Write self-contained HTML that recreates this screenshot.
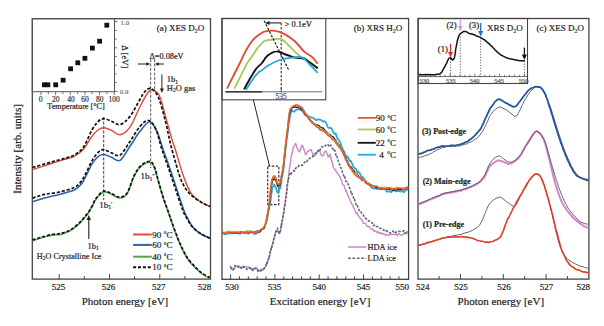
<!DOCTYPE html>
<html><head><meta charset="utf-8"><style>
html,body{margin:0;padding:0;background:#fff;width:604px;height:326px;overflow:hidden}
svg{display:block;font-family:"Liberation Serif",serif}
text{stroke:currentColor;stroke-width:0.2px;paint-order:stroke}
</style></head><body>
<svg width="604" height="326" viewBox="0 0 604 326">
<rect width="604" height="326" fill="#fff"/>
<rect x="32.3" y="18.7" width="178.2" height="260.4" fill="none" stroke="#444" stroke-width="1.3"/>
<line x1="59.2" y1="279.1" x2="59.2" y2="274.1" stroke="#444" stroke-width="1"/>
<line x1="84.3" y1="279.1" x2="84.3" y2="276.1" stroke="#444" stroke-width="1"/>
<line x1="109.5" y1="279.1" x2="109.5" y2="274.1" stroke="#444" stroke-width="1"/>
<line x1="134.6" y1="279.1" x2="134.6" y2="276.1" stroke="#444" stroke-width="1"/>
<line x1="159.8" y1="279.1" x2="159.8" y2="274.1" stroke="#444" stroke-width="1"/>
<line x1="184.9" y1="279.1" x2="184.9" y2="276.1" stroke="#444" stroke-width="1"/>
<text x="58.6" y="290.0" font-size="9" text-anchor="middle" fill="#222" style="color:#222" >525</text>
<text x="108.4" y="290.0" font-size="9" text-anchor="middle" fill="#222" style="color:#222" >526</text>
<text x="158.8" y="290.0" font-size="9" text-anchor="middle" fill="#222" style="color:#222" >527</text>
<text x="204.4" y="290.0" font-size="9" text-anchor="middle" fill="#222" style="color:#222" >528</text>
<text x="125.0" y="305.2" font-size="11" text-anchor="middle" fill="#222" style="color:#222" >Photon energy [eV]</text>
<text transform="translate(21.4,148.9) rotate(-90)" font-size="11" text-anchor="middle" fill="#222">Intensity [arb. units]</text>
<text x="156.8" y="31.0" font-size="9" text-anchor="start" fill="#222" style="color:#222" >(a) XES D<tspan font-size="6" dy="2">2</tspan><tspan dy="-2">O</tspan></text>
<rect x="32.3" y="18.7" width="82.2" height="73.0" fill="none" stroke="#555" stroke-width="1"/>
<line x1="41.0" y1="91.7" x2="41.0" y2="95.2" stroke="#555" stroke-width="0.8"/>
<line x1="48.3" y1="91.7" x2="48.3" y2="94.2" stroke="#555" stroke-width="0.8"/>
<line x1="55.6" y1="91.7" x2="55.6" y2="95.2" stroke="#555" stroke-width="0.8"/>
<line x1="63.0" y1="91.7" x2="63.0" y2="94.2" stroke="#555" stroke-width="0.8"/>
<line x1="70.3" y1="91.7" x2="70.3" y2="95.2" stroke="#555" stroke-width="0.8"/>
<line x1="77.6" y1="91.7" x2="77.6" y2="94.2" stroke="#555" stroke-width="0.8"/>
<line x1="84.9" y1="91.7" x2="84.9" y2="95.2" stroke="#555" stroke-width="0.8"/>
<line x1="92.2" y1="91.7" x2="92.2" y2="94.2" stroke="#555" stroke-width="0.8"/>
<line x1="99.6" y1="91.7" x2="99.6" y2="95.2" stroke="#555" stroke-width="0.8"/>
<line x1="106.9" y1="91.7" x2="106.9" y2="94.2" stroke="#555" stroke-width="0.8"/>
<line x1="114.2" y1="91.7" x2="114.2" y2="95.2" stroke="#555" stroke-width="0.8"/>
<text x="40.5" y="102.0" font-size="7.5" text-anchor="middle" fill="#333" style="color:#333" >0</text>
<text x="55.7" y="102.0" font-size="7.5" text-anchor="middle" fill="#333" style="color:#333" >20</text>
<text x="70.9" y="102.0" font-size="7.5" text-anchor="middle" fill="#333" style="color:#333" >40</text>
<text x="85.1" y="102.0" font-size="7.5" text-anchor="middle" fill="#333" style="color:#333" >60</text>
<text x="99.7" y="102.0" font-size="7.5" text-anchor="middle" fill="#333" style="color:#333" >80</text>
<text x="114.2" y="102.0" font-size="7.5" text-anchor="middle" fill="#333" style="color:#333" >100</text>
<text x="76.0" y="108.8" font-size="8.2" text-anchor="middle" fill="#222" style="color:#222" >Temperature [°C]</text>
<line x1="114.5" y1="21.7" x2="117.5" y2="21.7" stroke="#555" stroke-width="0.9"/>
<line x1="114.5" y1="30.4" x2="116.7" y2="30.4" stroke="#555" stroke-width="0.9"/>
<line x1="114.5" y1="39.1" x2="116.7" y2="39.1" stroke="#555" stroke-width="0.9"/>
<line x1="114.5" y1="47.8" x2="116.7" y2="47.8" stroke="#555" stroke-width="0.9"/>
<line x1="114.5" y1="56.5" x2="116.7" y2="56.5" stroke="#555" stroke-width="0.9"/>
<line x1="114.5" y1="65.2" x2="116.7" y2="65.2" stroke="#555" stroke-width="0.9"/>
<line x1="114.5" y1="73.9" x2="116.7" y2="73.9" stroke="#555" stroke-width="0.9"/>
<line x1="114.5" y1="82.6" x2="116.7" y2="82.6" stroke="#555" stroke-width="0.9"/>
<line x1="114.5" y1="91.3" x2="117.5" y2="91.3" stroke="#555" stroke-width="0.9"/>
<text x="120.5" y="24.8" font-size="7" text-anchor="start" fill="#777" style="color:#777" >1.0</text>
<text x="119.8" y="93.7" font-size="7" text-anchor="start" fill="#777" style="color:#777" >0.9</text>
<text transform="translate(121.6,56.8) rotate(90)" font-size="8.7" text-anchor="middle" fill="#333">Δ [eV]</text>
<rect x="42.0" y="82.4" width="4.8" height="4.8" fill="#111"/>
<rect x="45.5" y="82.4" width="4.8" height="4.8" fill="#111"/>
<rect x="53.3" y="82.4" width="4.8" height="4.8" fill="#111"/>
<rect x="60.7" y="77.8" width="4.8" height="4.8" fill="#111"/>
<rect x="68.2" y="66.4" width="4.8" height="4.8" fill="#111"/>
<rect x="75.4" y="60.4" width="4.8" height="4.8" fill="#111"/>
<rect x="82.5" y="55.9" width="4.8" height="4.8" fill="#111"/>
<rect x="90.0" y="45.7" width="4.8" height="4.8" fill="#111"/>
<rect x="97.2" y="38.8" width="4.8" height="4.8" fill="#111"/>
<rect x="104.4" y="22.8" width="4.8" height="4.8" fill="#111"/>
<line x1="103.6" y1="117.0" x2="103.6" y2="200.0" stroke="#666" stroke-width="1.3" stroke-dasharray="3,1.5"/>
<line x1="150.6" y1="59.0" x2="150.6" y2="168.0" stroke="#777" stroke-width="1.2" stroke-dasharray="3,1.5"/>
<line x1="154.6" y1="59.0" x2="154.6" y2="90.0" stroke="#777" stroke-width="1.2" stroke-dasharray="3,1.5"/>
<path d="M32.5,169.6 C35.7,168.6 45.9,165.3 51.5,163.5 C57.1,161.7 62.1,160.2 66.0,159.0 C69.9,157.8 72.1,157.7 75.0,156.0 C77.9,154.3 80.7,152.3 83.6,149.0 C86.5,145.7 89.7,139.2 92.2,136.0 C94.7,132.8 96.7,130.9 98.7,129.5 C100.7,128.1 101.9,127.6 104.0,127.8 C106.1,128.0 108.8,129.2 111.5,130.4 C114.2,131.6 117.0,135.2 120.1,134.7 C123.2,134.2 126.7,131.8 130.0,127.2 C133.3,122.6 136.9,112.6 139.8,107.0 C142.7,101.4 145.2,96.4 147.2,93.5 C149.2,90.6 149.9,89.4 152.0,89.8 C154.1,90.2 157.2,91.5 159.5,96.0 C161.8,100.5 163.5,109.7 165.6,116.9 C167.7,124.1 170.2,133.5 171.8,139.0 C173.5,144.5 173.7,144.1 175.5,150.0 C177.3,155.9 180.5,167.6 182.9,174.5 C185.3,181.4 188.0,187.9 190.0,191.7 C192.0,195.5 193.1,195.7 195.0,197.5 C196.9,199.3 199.2,201.0 201.7,202.5 C204.2,204.0 208.6,205.9 210.0,206.6" fill="none" stroke="#e2483a" stroke-width="1.4" stroke-linejoin="round" />
<path d="M32.5,167.5 C35.7,166.6 45.9,163.6 51.5,162.0 C57.1,160.4 62.1,159.2 66.0,158.0 C69.9,156.8 72.1,156.3 75.0,154.5 C77.9,152.7 80.7,151.2 83.6,147.0 C86.5,142.8 89.7,133.8 92.2,129.5 C94.7,125.2 96.7,122.8 98.7,121.0 C100.7,119.2 101.9,118.6 104.0,118.6 C106.1,118.6 108.8,120.2 111.5,121.2 C114.2,122.2 117.0,125.4 120.1,124.6 C123.2,123.8 126.7,120.6 130.0,116.4 C133.3,112.2 137.3,103.9 139.8,99.7 C142.3,95.5 143.2,93.3 145.0,91.5 C146.8,89.7 148.7,87.6 150.9,88.6 C153.1,89.5 155.9,91.7 158.3,97.2 C160.8,102.7 163.6,114.0 165.6,121.8 C167.6,129.6 168.7,136.7 170.5,143.9 C172.3,151.2 174.5,158.9 176.4,165.3 C178.3,171.7 179.9,177.7 182.2,182.5 C184.5,187.3 186.8,190.7 190.0,194.0 C193.2,197.3 198.4,200.4 201.7,202.5 C205.0,204.6 208.6,205.9 210.0,206.6" fill="none" stroke="#111" stroke-width="1.7" stroke-dasharray="3.2,1.8" stroke-linejoin="round" />
<path d="M32.5,201.7 C34.5,201.1 40.2,199.2 44.7,198.0 C49.2,196.8 54.5,195.7 59.4,194.4 C64.3,193.1 70.5,191.7 74.2,190.0 C77.9,188.3 79.5,186.5 81.5,184.0 C83.5,181.5 84.7,178.4 86.5,175.0 C88.3,171.6 90.2,166.8 92.2,163.6 C94.2,160.4 96.7,157.6 98.7,156.1 C100.7,154.6 101.9,154.3 104.0,154.5 C106.1,154.7 108.8,156.2 111.5,157.2 C114.2,158.2 117.0,162.2 120.1,160.4 C123.2,158.6 126.7,151.1 130.0,146.3 C133.3,141.5 136.5,135.7 139.8,131.6 C143.1,127.5 146.8,121.8 149.7,121.8 C152.6,121.8 154.7,126.9 157.0,131.6 C159.3,136.3 161.2,144.1 163.3,150.0 C165.4,155.9 167.2,160.7 169.4,167.2 C171.7,173.7 174.4,181.9 176.8,189.2 C179.2,196.5 182.2,206.0 184.1,211.0 C186.0,216.0 186.6,216.3 188.0,219.0 C189.4,221.7 190.6,224.6 192.7,227.0 C194.8,229.4 197.4,231.6 200.4,233.5 C203.4,235.4 208.8,237.8 210.5,238.6" fill="none" stroke="#2f64a8" stroke-width="1.6" stroke-linejoin="round" />
<path d="M32.5,198.0 C34.5,197.4 40.2,195.4 44.7,194.4 C49.2,193.4 54.5,193.2 59.4,192.0 C64.3,190.8 70.5,189.3 74.2,187.5 C77.9,185.7 79.5,183.6 81.5,181.0 C83.5,178.4 84.7,175.4 86.5,172.0 C88.3,168.6 90.2,163.8 92.2,160.4 C94.2,157.0 96.7,153.6 98.7,151.8 C100.7,150.0 101.9,149.5 104.0,149.7 C106.1,149.9 108.8,152.0 111.5,152.9 C114.2,153.8 117.0,157.0 120.1,155.1 C123.2,153.2 126.7,146.1 130.0,141.4 C133.3,136.7 136.7,130.2 139.8,126.7 C142.9,123.2 145.7,120.1 148.4,120.5 C151.1,120.9 153.6,124.5 155.8,129.1 C158.0,133.7 159.5,141.8 161.5,148.0 C163.5,154.2 165.5,159.2 167.8,166.0 C170.1,172.8 172.8,181.2 175.3,188.5 C177.8,195.8 180.7,205.0 182.6,210.0 C184.5,215.0 185.4,215.8 187.0,218.5 C188.6,221.2 189.8,224.0 192.0,226.5 C194.2,229.0 196.9,231.3 200.0,233.3 C203.1,235.3 208.8,237.6 210.5,238.5" fill="none" stroke="#111" stroke-width="1.7" stroke-dasharray="3.2,1.8" stroke-linejoin="round" />
<path d="M32.5,240.8 C33.9,240.4 37.8,239.0 41.0,238.1 C44.2,237.2 48.6,236.0 52.0,235.3 C55.4,234.7 58.2,235.0 61.3,234.2 C64.4,233.4 67.4,232.5 70.4,230.7 C73.5,228.9 77.1,225.7 79.6,223.4 C82.0,221.1 83.6,218.8 85.1,217.0 C86.6,215.2 87.6,214.3 88.8,212.5 C90.0,210.7 91.3,208.2 92.5,206.0 C93.7,203.8 94.4,201.3 96.2,199.0 C98.0,196.7 101.0,192.9 103.5,192.1 C106.0,191.3 108.2,193.0 110.9,194.0 C113.6,195.0 116.8,198.0 119.5,198.0 C122.2,198.0 124.7,197.3 127.1,193.8 C129.5,190.3 131.7,181.4 133.9,176.9 C136.2,172.4 137.9,169.2 140.6,166.8 C143.2,164.4 147.5,162.0 149.8,162.3 C152.2,162.6 153.3,165.1 154.7,168.4 C156.1,171.7 156.9,176.8 158.4,181.9 C159.9,187.0 161.8,193.8 163.5,199.0 C165.2,204.2 167.0,208.6 168.5,213.0 C170.0,217.4 171.1,220.8 172.7,225.2 C174.3,229.6 176.3,235.3 178.0,239.5 C179.7,243.7 181.1,247.0 182.8,250.3 C184.5,253.6 185.9,256.6 188.0,259.5 C190.1,262.4 193.1,265.5 195.4,267.9 C197.7,270.3 199.6,272.3 202.0,274.0 C204.4,275.7 208.4,277.6 209.7,278.3" fill="none" stroke="#4fa850" stroke-width="1.5" stroke-linejoin="round" />
<path d="M32.5,240.0 C33.9,239.6 37.8,238.2 41.0,237.3 C44.2,236.4 48.6,235.2 52.0,234.5 C55.4,233.8 58.2,234.2 61.3,233.4 C64.4,232.6 67.4,231.7 70.4,229.9 C73.5,228.1 77.1,224.9 79.6,222.6 C82.0,220.3 83.6,218.0 85.1,216.2 C86.6,214.4 87.6,213.5 88.8,211.7 C90.0,209.9 91.3,207.4 92.5,205.2 C93.7,202.9 94.4,200.5 96.2,198.2 C98.0,195.9 101.0,192.1 103.5,191.3 C106.0,190.5 108.2,192.2 110.9,193.2 C113.6,194.2 116.8,197.2 119.5,197.2 C122.2,197.2 124.7,196.5 127.1,193.0 C129.5,189.5 131.7,180.6 133.9,176.1 C136.2,171.6 137.9,168.4 140.6,166.0 C143.2,163.6 147.5,161.2 149.8,161.5 C152.2,161.8 153.3,164.3 154.7,167.6 C156.1,170.9 156.9,176.0 158.4,181.1 C159.9,186.2 161.8,193.0 163.5,198.2 C165.2,203.4 167.0,207.8 168.5,212.2 C170.0,216.6 171.1,220.0 172.7,224.4 C174.3,228.8 176.3,234.5 178.0,238.7 C179.7,242.9 181.1,246.2 182.8,249.5 C184.5,252.8 185.9,255.8 188.0,258.7 C190.1,261.6 193.1,264.7 195.4,267.1 C197.7,269.5 199.6,271.5 202.0,273.2 C204.4,274.9 208.4,276.8 209.7,277.5" fill="none" stroke="#111" stroke-width="1.7" stroke-dasharray="3.2,1.8" stroke-linejoin="round" />
<text x="149.4" y="58.9" font-size="8.3" text-anchor="start" fill="#222" style="color:#222" >Δ=0.08eV</text>
<line x1="137.8" y1="64.0" x2="147.5" y2="64.0" stroke="#222" stroke-width="1"/>
<polygon points="150.3,64.0 146.3,62.2 146.3,65.8" fill="#222"/>
<line x1="163.9" y1="64.0" x2="157.5" y2="64.0" stroke="#222" stroke-width="1"/>
<polygon points="154.8,64.0 158.8,62.2 158.8,65.8" fill="#222"/>
<line x1="161.9" y1="74.4" x2="161.9" y2="89.0" stroke="#222" stroke-width="1"/>
<polygon points="161.9,93.0 159.9,88.5 163.9,88.5" fill="#222"/>
<text x="166.8" y="82.3" font-size="8.5" text-anchor="start" fill="#222" style="color:#222" >1b<tspan font-size="5.5" dy="1.5">1</tspan></text>
<text x="166.8" y="90.8" font-size="8.5" text-anchor="start" fill="#222" style="color:#222" >H<tspan font-size="5.5" dy="1.5">2</tspan><tspan dy="-1.5">O gas</tspan></text>
<text x="99.3" y="207.5" font-size="9" text-anchor="start" fill="#222" style="color:#222" >1b<tspan font-size="5.5" dy="1.5">1</tspan><tspan font-size="7" dy="-3">'</tspan></text>
<text x="140.5" y="179.4" font-size="9" text-anchor="start" fill="#222" style="color:#222" >1b<tspan font-size="5.5" dy="1.5">1</tspan><tspan font-size="7" dy="-3">''</tspan></text>
<line x1="88.8" y1="239.0" x2="88.8" y2="219.5" stroke="#222" stroke-width="1.1"/>
<polygon points="88.8,215.1 86.5,220.1 91.0,220.1" fill="#222"/>
<text x="87.6" y="248.8" font-size="8.5" text-anchor="start" fill="#222" style="color:#222" >1b<tspan font-size="5.5" dy="1.5">1</tspan></text>
<text x="36.8" y="258.6" font-size="8.2" text-anchor="start" fill="#222" style="color:#222" >H<tspan font-size="5.5" dy="1.5">2</tspan><tspan dy="-1.5">O Crystalline Ice</tspan></text>
<line x1="133.1" y1="234.5" x2="151.8" y2="234.5" stroke="#e2483a" stroke-width="2.0"/>
<text x="152.2" y="237.6" font-size="9" text-anchor="start" fill="#222" style="color:#222" >90<tspan dx="2.5" dy="-1.5" font-size="7">°</tspan><tspan dy="1.5">C</tspan></text>
<line x1="133.1" y1="244.9" x2="151.8" y2="244.9" stroke="#2f64a8" stroke-width="2.0"/>
<text x="152.2" y="248.0" font-size="9" text-anchor="start" fill="#222" style="color:#222" >60<tspan dx="2.5" dy="-1.5" font-size="7">°</tspan><tspan dy="1.5">C</tspan></text>
<line x1="133.1" y1="256.7" x2="151.8" y2="256.7" stroke="#4fa850" stroke-width="2.0"/>
<text x="152.2" y="259.8" font-size="9" text-anchor="start" fill="#222" style="color:#222" >40<tspan dx="2.5" dy="-1.5" font-size="7">°</tspan><tspan dy="1.5">C</tspan></text>
<line x1="133.1" y1="267.2" x2="151.8" y2="267.2" stroke="#111" stroke-width="2.0" stroke-dasharray="3,1.9"/>
<text x="152.2" y="270.3" font-size="9" text-anchor="start" fill="#222" style="color:#222" >10<tspan dx="2.5" dy="-1.5" font-size="7">°</tspan><tspan dy="1.5">C</tspan></text>
<rect x="222.0" y="18.5" width="186.6" height="260.8" fill="none" stroke="#444" stroke-width="1.3"/>
<line x1="230.6" y1="279.3" x2="230.6" y2="274.3" stroke="#444" stroke-width="1"/>
<line x1="239.5" y1="279.3" x2="239.5" y2="276.3" stroke="#444" stroke-width="1"/>
<line x1="248.3" y1="279.3" x2="248.3" y2="276.3" stroke="#444" stroke-width="1"/>
<line x1="257.2" y1="279.3" x2="257.2" y2="276.3" stroke="#444" stroke-width="1"/>
<line x1="266.0" y1="279.3" x2="266.0" y2="276.3" stroke="#444" stroke-width="1"/>
<line x1="274.9" y1="279.3" x2="274.9" y2="274.3" stroke="#444" stroke-width="1"/>
<line x1="283.8" y1="279.3" x2="283.8" y2="276.3" stroke="#444" stroke-width="1"/>
<line x1="292.6" y1="279.3" x2="292.6" y2="276.3" stroke="#444" stroke-width="1"/>
<line x1="301.5" y1="279.3" x2="301.5" y2="276.3" stroke="#444" stroke-width="1"/>
<line x1="310.3" y1="279.3" x2="310.3" y2="276.3" stroke="#444" stroke-width="1"/>
<line x1="319.2" y1="279.3" x2="319.2" y2="274.3" stroke="#444" stroke-width="1"/>
<line x1="328.1" y1="279.3" x2="328.1" y2="276.3" stroke="#444" stroke-width="1"/>
<line x1="336.9" y1="279.3" x2="336.9" y2="276.3" stroke="#444" stroke-width="1"/>
<line x1="345.8" y1="279.3" x2="345.8" y2="276.3" stroke="#444" stroke-width="1"/>
<line x1="354.6" y1="279.3" x2="354.6" y2="276.3" stroke="#444" stroke-width="1"/>
<line x1="363.5" y1="279.3" x2="363.5" y2="274.3" stroke="#444" stroke-width="1"/>
<line x1="372.4" y1="279.3" x2="372.4" y2="276.3" stroke="#444" stroke-width="1"/>
<line x1="381.2" y1="279.3" x2="381.2" y2="276.3" stroke="#444" stroke-width="1"/>
<line x1="390.1" y1="279.3" x2="390.1" y2="276.3" stroke="#444" stroke-width="1"/>
<line x1="398.9" y1="279.3" x2="398.9" y2="276.3" stroke="#444" stroke-width="1"/>
<text x="231.9" y="290.0" font-size="9" text-anchor="middle" fill="#222" style="color:#222" >530</text>
<text x="274.6" y="290.0" font-size="9" text-anchor="middle" fill="#222" style="color:#222" >535</text>
<text x="319.2" y="290.0" font-size="9" text-anchor="middle" fill="#222" style="color:#222" >540</text>
<text x="363.5" y="290.0" font-size="9" text-anchor="middle" fill="#222" style="color:#222" >545</text>
<text x="402.2" y="290.0" font-size="9" text-anchor="middle" fill="#222" style="color:#222" >550</text>
<text x="320.0" y="305.2" font-size="11" text-anchor="middle" fill="#222" style="color:#222" >Excitation energy [eV]</text>
<text x="353.8" y="31.0" font-size="9" text-anchor="start" fill="#222" style="color:#222" >(b) XRS H<tspan font-size="6" dy="2">2</tspan><tspan dy="-2">O</tspan></text>
<rect x="222.0" y="18.5" width="103.8" height="81.3" fill="none" stroke="#444" stroke-width="1.1"/>
<line x1="225.5" y1="91.8" x2="322.3" y2="91.8" stroke="#444" stroke-width="0.8"/>
<line x1="225.5" y1="91.8" x2="262.0" y2="91.8" stroke="#222" stroke-width="1.2"/>
<line x1="281.2" y1="91.8" x2="281.2" y2="88.2" stroke="#444" stroke-width="0.8"/>
<text x="281.2" y="99.3" font-size="7.5" text-anchor="middle" fill="#555" style="color:#555" >535</text>
<line x1="281.2" y1="23.0" x2="281.2" y2="91.8" stroke="#333" stroke-width="1.1" stroke-dasharray="2.5,1.5"/>
<path d="M226.9,88.7 C228.1,86.2 232.1,78.5 234.3,74.0 C236.6,69.5 238.9,65.1 240.4,62.0 C241.9,58.9 242.2,57.9 243.4,55.5 C244.6,53.1 246.3,49.9 247.7,47.5 C249.1,45.1 250.6,42.8 252.0,41.0 C253.4,39.2 254.7,38.0 256.3,36.7 C257.9,35.4 260.2,33.9 261.8,33.0 C263.4,32.1 263.4,31.7 265.6,31.3 C267.8,30.9 271.8,30.5 274.9,30.9 C278.0,31.3 280.8,32.2 284.1,33.9 C287.4,35.6 291.5,38.4 294.8,41.3 C298.1,44.2 301.2,48.8 304.0,51.4 C306.8,54.0 309.4,54.7 311.7,56.7 C314.0,58.8 316.8,62.5 317.8,63.7" fill="none" stroke="#e04a30" stroke-width="1.8" stroke-linejoin="round" />
<path d="M234.3,88.7 C235.3,86.7 238.4,80.6 240.4,76.5 C242.4,72.4 244.5,67.7 246.5,64.2 C248.5,60.7 250.9,58.0 252.6,55.5 C254.3,53.0 255.4,50.9 256.9,48.9 C258.4,46.9 260.4,44.8 261.8,43.4 C263.2,42.0 263.4,41.4 265.6,40.7 C267.8,40.0 272.3,39.5 274.9,39.2 C277.5,39.0 279.0,38.4 281.0,39.2 C283.0,40.0 284.6,41.5 287.1,43.8 C289.7,46.1 293.5,50.5 296.3,53.0 C299.1,55.5 301.7,57.6 304.0,59.1 C306.3,60.6 307.9,60.7 310.2,62.2 C312.5,63.7 316.5,67.3 317.8,68.3" fill="none" stroke="#a9c95e" stroke-width="1.8" stroke-linejoin="round" />
<path d="M244.1,89.4 C245.1,87.6 248.1,81.8 250.2,78.3 C252.2,74.8 254.4,71.0 256.4,68.5 C258.4,66.0 260.2,65.1 262.0,63.0 C263.8,60.9 264.8,57.9 267.2,56.0 C269.6,54.1 273.3,51.6 276.4,51.4 C279.5,51.1 282.5,53.5 285.6,54.5 C288.7,55.5 291.7,56.9 294.8,57.6 C297.9,58.3 301.4,57.6 304.0,58.5 C306.6,59.4 307.9,61.2 310.2,62.8 C312.5,64.4 316.5,67.4 317.8,68.3" fill="none" stroke="#111" stroke-width="1.9" stroke-linejoin="round" />
<path d="M245.9,90.0 C247.0,88.2 250.5,82.5 252.7,79.5 C254.8,76.5 257.2,73.7 258.8,72.2 C260.4,70.7 260.4,71.5 262.0,70.3 C263.6,69.1 265.8,66.9 268.7,65.2 C271.6,63.5 275.7,61.3 279.5,60.0 C283.3,58.7 287.9,58.0 291.7,57.6 C295.5,57.2 299.4,56.3 302.5,57.6 C305.6,58.9 307.6,62.7 310.2,65.2 C312.8,67.8 316.5,71.6 317.8,72.9" fill="none" stroke="#2aa6d6" stroke-width="1.8" stroke-linejoin="round" />
<line x1="264.1" y1="20.7" x2="288.7" y2="69.9" stroke="#222" stroke-width="1.2" stroke-dasharray="2.5,1.5"/>
<line x1="268.0" y1="22.9" x2="281.2" y2="22.9" stroke="#222" stroke-width="1.1"/>
<polygon points="265.0,22.9 269.5,20.9 269.5,24.9" fill="#222"/>
<text x="284.5" y="26.6" font-size="8.5" text-anchor="start" fill="#222" style="color:#222" >&gt; 0.1eV</text>
<line x1="253.4" y1="100.0" x2="269.5" y2="166.1" stroke="#222" stroke-width="1"/>
<rect x="267.7" y="166.1" width="11.1" height="38.6" fill="none" stroke="#333" stroke-width="1.2" stroke-dasharray="2.5,1.5"/>
<path d="M222.5,233.1 L223.8,233.4 L225.6,234.5 L227.7,233.1 L230.0,233.3 L232.4,233.5 L234.7,232.3 L236.5,233.2 L238.3,233.5 L240.2,234.0 L242.2,231.8 L244.1,232.4 L246.0,231.7 L247.8,233.8 L249.4,233.4 L251.8,231.3 L253.9,234.0 L255.9,233.8 L257.7,232.7 L259.3,232.1 L261.4,229.8 L262.9,228.2 L264.2,228.1 L265.0,225.3 L265.5,224.1 L266.1,222.5 L266.6,219.6 L267.0,219.3 L267.3,217.5 L267.7,216.7 L268.1,213.7 L268.4,212.1 L268.8,209.8 L269.1,208.5 L269.5,205.7 L269.8,203.1 L270.2,203.3 L270.5,201.4 L270.8,199.0 L271.1,196.6 L271.5,193.3 L271.8,191.1 L272.2,189.4 L272.5,187.2 L273.2,186.5 L274.0,184.3 L275.0,186.8 L276.0,187.7 L277.0,191.7 L278.0,193.0 L279.8,188.5 L280.1,187.6 L280.5,187.8 L280.8,184.3 L281.2,183.6 L281.5,179.7 L281.9,176.8 L282.2,176.7 L282.6,175.3 L282.9,171.8 L283.3,168.8 L283.5,167.9 L283.7,168.2 L283.9,165.8 L284.1,162.1 L284.3,160.5 L284.5,158.1 L284.7,155.9 L285.0,156.0 L285.2,152.0 L285.4,151.5 L285.6,149.4 L285.8,146.8 L286.0,146.5 L286.2,142.8 L286.4,142.4 L286.7,138.9 L286.9,137.9 L287.1,135.4 L287.4,133.7 L287.6,134.1 L287.8,131.9 L288.1,128.2 L288.4,127.8 L288.7,123.6 L288.9,122.0 L289.2,121.4 L289.5,118.9 L289.8,115.5 L290.2,116.7 L290.5,113.1 L292.1,110.8 L294.0,111.8 L296.2,109.6 L298.6,109.3 L300.8,109.9 L303.0,111.8 L305.1,114.9 L307.0,115.2 L310.4,117.3 L312.1,117.4 L314.0,118.4 L316.1,120.3 L318.4,119.3 L320.7,119.8 L323.0,121.6 L324.5,121.0 L326.1,122.8 L327.6,126.9 L329.1,128.1 L330.5,127.7 L332.0,129.1 L333.2,132.0 L334.5,134.0 L335.7,133.3 L336.8,137.2 L337.7,138.6 L338.4,139.4 L339.1,140.7 L340.0,141.8 L340.7,143.2 L341.5,147.7 L342.3,147.4 L343.2,150.7 L344.2,151.3 L345.3,155.0 L346.2,155.8 L347.2,156.4 L348.3,157.6 L349.4,160.9 L350.5,160.5 L351.6,162.5 L352.7,165.0 L353.7,167.3 L354.9,168.3 L356.0,168.8 L357.1,172.3 L358.1,171.6 L359.3,172.5 L360.5,174.8 L361.6,176.8 L362.8,177.1 L364.1,179.0 L365.4,181.0 L366.7,183.1 L368.0,183.0 L369.3,184.8 L371.2,187.5 L373.0,188.6 L375.0,188.3 L377.0,188.9 L379.1,189.2 L381.0,188.3 L383.0,188.4 L385.0,188.7 L387.1,191.7 L389.2,191.3 L391.3,192.3 L393.4,189.6 L395.7,191.5 L397.9,191.0 L400.1,191.7 L402.0,190.4 L403.6,192.4 L406.6,189.2 L408.0,190.2" fill="none" stroke="#2aa6d6" stroke-width="1.7" stroke-linejoin="round" />
<path d="M222.5,232.8 L223.4,233.1 L224.6,233.1 L226.1,232.3 L227.7,232.1 L229.4,232.7 L231.2,232.5 L233.0,233.3 L234.7,233.1 L236.1,233.0 L237.6,232.9 L239.1,233.0 L240.6,232.1 L242.2,232.5 L243.7,232.1 L245.3,233.2 L246.7,231.8 L248.1,232.9 L249.4,231.7 L251.1,232.6 L252.7,232.0 L254.2,232.0 L255.7,232.6 L257.0,231.2 L258.2,231.0 L259.3,232.1 L260.9,230.7 L262.2,229.1 L263.3,229.4 L264.2,228.0 L264.8,225.5 L265.3,224.8 L265.8,222.9 L266.2,221.6 L266.6,220.1 L266.9,218.3 L267.1,217.8 L267.4,215.4 L267.6,214.2 L267.9,213.7 L268.2,211.5 L268.4,210.0 L268.7,208.7 L268.9,207.1 L269.1,205.5 L269.3,203.4 L269.5,202.9 L269.7,201.8 L269.8,200.2 L270.0,198.2 L270.1,196.2 L270.3,194.8 L270.4,193.9 L270.6,192.6 L270.8,189.8 L271.1,188.2 L271.3,186.8 L271.5,185.4 L271.7,184.5 L272.0,182.8 L272.6,180.1 L273.2,180.0 L273.9,178.7 L274.9,179.5 L276.0,180.8 L276.5,182.5 L277.0,184.1 L277.5,186.2 L278.0,186.1 L279.8,185.6 L280.1,184.0 L280.4,183.5 L280.7,180.9 L280.9,179.7 L281.2,178.2 L281.5,177.2 L281.8,174.8 L282.1,174.0 L282.4,172.2 L282.8,170.6 L283.1,168.7 L283.2,168.4 L283.4,166.5 L283.5,166.0 L283.7,163.5 L283.8,163.3 L284.0,161.0 L284.1,159.3 L284.3,158.7 L284.5,157.4 L284.6,154.4 L284.8,153.2 L285.0,152.4 L285.2,150.4 L285.3,148.8 L285.5,147.0 L285.6,145.6 L285.8,145.0 L286.0,144.0 L286.2,142.5 L286.4,140.2 L286.5,137.8 L286.7,136.8 L286.9,136.0 L287.1,134.6 L287.3,132.8 L287.4,130.7 L287.6,129.8 L287.8,128.0 L288.0,126.6 L288.2,124.3 L288.3,123.7 L288.5,121.9 L288.7,119.1 L288.9,117.8 L289.1,117.2 L289.3,114.9 L289.5,114.7 L289.8,112.8 L290.1,112.1 L291.2,109.9 L292.4,107.8 L293.8,107.2 L295.2,106.8 L296.7,107.3 L298.2,107.6 L299.7,107.3 L301.1,109.3 L302.2,109.6 L303.2,110.5 L304.2,112.3 L305.3,114.6 L306.2,115.1 L307.2,116.4 L308.2,118.1 L309.3,119.4 L310.3,120.3 L311.3,120.7 L312.6,122.1 L313.8,123.5 L315.0,124.1 L316.3,124.6 L317.7,125.0 L319.1,125.9 L320.6,127.3 L322.2,128.0 L323.3,128.0 L324.4,129.9 L325.6,131.1 L326.7,131.9 L327.9,133.0 L329.0,134.0 L330.1,134.5 L331.3,136.0 L332.5,136.5 L333.6,137.3 L334.7,138.9 L335.7,140.0 L336.6,142.2 L337.4,142.8 L338.1,143.6 L338.9,144.8 L339.8,145.5 L340.8,148.0 L341.4,149.3 L341.9,149.9 L342.6,150.9 L343.2,152.5 L343.9,153.8 L344.6,155.8 L345.3,156.4 L346.0,157.8 L346.7,159.6 L347.4,161.7 L348.2,163.1 L348.9,164.2 L349.6,165.9 L350.5,166.4 L351.5,167.2 L352.5,169.2 L353.4,170.4 L354.4,171.1 L355.4,173.1 L356.4,173.6 L357.4,174.5 L358.4,175.7 L359.4,177.6 L360.6,177.3 L361.9,178.9 L363.1,179.8 L364.4,180.6 L365.6,181.9 L366.8,182.4 L368.1,184.3 L369.3,184.3 L370.7,185.4 L372.0,185.2 L373.4,186.2 L374.7,186.9 L376.1,187.8 L377.6,187.2 L379.1,187.9 L380.5,188.9 L382.0,189.1 L383.5,188.3 L385.0,189.0 L386.6,189.5 L388.2,189.0 L389.8,189.6 L391.3,189.7 L392.9,190.2 L394.6,189.6 L396.3,189.8 L397.9,189.3 L399.6,189.9 L401.1,189.2 L402.4,189.5 L403.6,189.2 L405.8,188.8 L407.2,188.0 L408.0,187.9" fill="none" stroke="#111" stroke-width="1.3" stroke-linejoin="round" />
<path d="M222.5,231.5 L223.4,232.2 L224.6,232.2 L226.1,232.5 L227.7,231.4 L229.4,231.5 L231.2,231.4 L233.0,231.5 L234.7,232.3 L236.1,231.3 L237.6,231.9 L239.1,231.3 L240.6,231.4 L242.2,231.6 L243.7,232.2 L245.3,231.8 L246.7,230.8 L248.1,231.1 L249.4,230.8 L251.1,231.9 L252.7,231.8 L254.2,231.7 L255.7,231.7 L257.0,231.4 L258.2,231.5 L259.3,231.0 L260.9,229.3 L262.2,229.3 L263.3,227.6 L264.2,226.6 L264.8,225.1 L265.3,223.7 L265.8,222.2 L266.2,220.7 L266.6,218.5 L266.9,217.0 L267.1,216.8 L267.4,215.4 L267.6,214.2 L267.9,212.2 L268.2,210.4 L268.4,209.2 L268.7,206.6 L268.9,205.9 L269.1,204.0 L269.3,202.1 L269.5,200.6 L269.6,199.5 L269.8,197.5 L269.9,196.3 L270.1,195.0 L270.2,193.1 L270.3,191.3 L270.5,190.5 L270.6,188.8 L270.8,187.0 L271.0,185.3 L271.2,184.0 L271.4,182.1 L271.6,181.7 L271.8,181.0 L272.0,179.0 L272.9,177.2 L273.9,176.7 L274.9,175.8 L276.0,177.6 L276.5,180.1 L277.0,181.9 L277.5,183.3 L278.0,183.7 L279.8,183.1 L280.1,182.6 L280.5,181.1 L280.8,179.2 L281.2,176.4 L281.5,175.8 L281.8,173.5 L282.1,172.8 L282.4,170.5 L282.8,170.1 L283.1,167.4 L283.2,166.5 L283.4,164.5 L283.5,163.9 L283.7,162.5 L283.8,161.2 L284.0,159.4 L284.1,158.5 L284.3,156.3 L284.5,154.7 L284.6,152.9 L284.8,152.1 L285.0,149.6 L285.2,148.4 L285.3,146.8 L285.5,146.3 L285.6,144.6 L285.8,143.1 L286.0,140.8 L286.2,139.9 L286.4,138.2 L286.5,136.2 L286.7,134.5 L286.9,134.6 L287.1,131.7 L287.3,130.5 L287.4,129.0 L287.6,128.2 L287.8,125.7 L288.0,124.7 L288.1,123.0 L288.3,122.1 L288.5,119.1 L288.6,118.1 L288.8,116.8 L289.0,116.1 L289.1,114.0 L289.3,112.6 L289.6,111.7 L289.8,110.0 L290.1,108.7 L291.2,107.2 L292.4,106.7 L293.8,105.9 L295.2,104.8 L296.7,105.4 L298.2,106.0 L299.7,105.7 L301.1,107.0 L302.0,107.5 L302.8,108.4 L303.6,109.7 L304.4,110.9 L305.3,112.6 L306.1,113.2 L306.9,115.0 L307.8,115.8 L308.7,118.2 L309.6,119.2 L310.5,119.4 L311.3,121.6 L312.6,122.1 L313.8,123.6 L315.0,124.6 L316.3,125.2 L317.4,126.0 L318.6,127.0 L319.7,127.4 L320.9,129.4 L322.2,129.1 L323.3,131.0 L324.4,130.8 L325.6,131.7 L326.7,132.7 L327.9,133.0 L329.0,134.1 L330.1,135.5 L331.3,136.7 L332.5,138.6 L333.6,140.0 L334.7,139.6 L335.7,141.6 L336.6,141.9 L337.4,143.8 L338.1,143.9 L338.9,145.8 L339.8,146.5 L340.8,147.6 L341.3,148.4 L341.9,149.8 L342.4,152.0 L343.0,152.1 L343.6,154.0 L344.3,155.2 L344.9,156.6 L345.6,158.7 L346.2,159.2 L346.9,161.4 L347.6,162.7 L348.3,164.4 L348.9,164.9 L349.6,166.7 L350.5,167.3 L351.5,168.8 L352.5,170.2 L353.4,171.7 L354.4,172.9 L355.4,172.7 L356.4,173.8 L357.4,175.4 L358.4,176.7 L359.4,177.2 L360.6,177.8 L361.9,179.8 L363.1,179.5 L364.4,180.0 L365.6,180.6 L366.8,181.2 L368.1,182.9 L369.3,182.6 L370.7,184.2 L372.0,185.1 L373.4,185.9 L374.7,186.1 L376.1,186.0 L377.6,186.7 L379.1,187.4 L380.5,187.5 L382.0,187.1 L383.5,188.0 L385.0,187.1 L386.6,187.5 L388.2,188.7 L389.8,188.0 L391.3,187.7 L392.9,188.6 L394.6,188.1 L396.3,187.4 L397.9,187.5 L399.6,187.9 L401.1,187.9 L402.4,188.9 L403.6,187.7 L405.8,188.3 L407.2,187.8 L408.0,186.8" fill="none" stroke="#a9c95e" stroke-width="1.4" stroke-linejoin="round" />
<path d="M222.5,231.9 L223.4,233.1 L224.6,233.0 L226.1,233.6 L227.7,232.3 L229.4,232.2 L231.2,233.2 L233.0,233.0 L234.7,232.3 L236.1,233.0 L237.6,232.4 L239.1,233.2 L240.6,231.8 L242.2,232.0 L243.7,233.3 L245.3,232.1 L246.7,231.9 L248.1,232.9 L249.4,232.5 L251.1,231.4 L252.7,232.2 L254.2,232.3 L255.7,231.3 L257.0,232.1 L258.2,230.9 L259.3,231.0 L260.9,229.7 L262.2,229.0 L263.3,229.3 L264.2,226.8 L264.8,226.8 L265.3,224.5 L265.8,223.4 L266.2,222.3 L266.6,220.0 L266.9,217.6 L267.1,217.3 L267.4,216.0 L267.6,213.6 L267.9,211.9 L268.2,211.9 L268.4,209.6 L268.7,207.4 L268.9,206.3 L269.1,204.3 L269.3,204.0 L269.5,201.9 L269.6,199.5 L269.8,199.4 L269.9,196.3 L270.1,195.2 L270.2,193.2 L270.3,193.2 L270.5,190.5 L270.6,190.1 L270.8,187.4 L271.0,186.5 L271.2,185.4 L271.4,183.6 L271.6,182.1 L271.8,181.0 L272.0,179.9 L272.9,177.8 L273.9,176.0 L274.9,177.3 L276.0,178.5 L276.5,181.1 L277.0,183.1 L277.5,183.0 L278.0,184.3 L279.8,184.4 L280.1,183.0 L280.5,180.3 L280.8,179.9 L281.2,178.6 L281.5,175.8 L281.8,174.2 L282.1,173.4 L282.4,172.7 L282.8,169.7 L283.1,167.6 L283.2,166.3 L283.4,166.0 L283.5,164.4 L283.7,162.7 L283.8,161.6 L284.0,159.5 L284.1,158.5 L284.3,158.4 L284.5,156.0 L284.6,153.8 L284.8,153.5 L285.0,150.7 L285.2,149.2 L285.3,147.3 L285.5,146.1 L285.6,144.8 L285.8,143.3 L286.0,143.1 L286.2,140.3 L286.4,138.7 L286.5,137.9 L286.7,137.0 L286.9,134.2 L287.1,133.6 L287.3,131.4 L287.4,130.3 L287.6,129.0 L287.8,128.1 L288.0,126.1 L288.1,124.0 L288.3,123.0 L288.5,120.5 L288.6,118.9 L288.8,118.5 L289.0,116.2 L289.1,115.3 L289.3,113.1 L289.6,113.1 L289.8,111.4 L290.1,109.7 L291.2,108.9 L292.4,106.8 L293.8,106.0 L295.2,105.5 L296.7,105.1 L298.2,105.6 L299.7,107.2 L301.1,107.0 L302.0,108.1 L302.8,109.5 L303.6,110.9 L304.4,112.0 L305.3,114.2 L306.1,114.2 L306.9,115.7 L307.8,117.1 L308.7,117.8 L309.6,119.3 L310.5,120.3 L311.3,122.5 L312.6,122.7 L313.8,124.7 L315.0,124.8 L316.3,126.6 L317.4,127.4 L318.6,127.7 L319.7,129.6 L320.9,129.9 L322.2,130.6 L323.3,130.4 L324.4,131.9 L325.6,132.4 L326.7,133.6 L327.9,135.4 L329.0,136.2 L330.1,135.7 L331.3,138.0 L332.5,139.7 L333.6,140.1 L334.7,140.3 L335.7,143.0 L336.6,143.1 L337.4,145.1 L338.1,145.7 L338.9,146.6 L339.8,148.1 L340.8,148.1 L341.3,150.5 L341.9,150.6 L342.4,151.5 L343.0,153.2 L343.6,155.0 L344.3,155.2 L344.9,157.5 L345.6,159.6 L346.2,160.5 L346.9,161.9 L347.6,162.8 L348.3,165.5 L348.9,165.2 L349.6,167.2 L350.5,168.5 L351.5,168.5 L352.5,171.8 L353.4,171.4 L354.4,174.1 L355.4,175.0 L356.4,176.0 L357.4,176.8 L358.4,176.8 L359.4,177.8 L360.6,178.6 L361.9,180.7 L363.1,179.7 L364.4,180.7 L365.6,183.0 L366.8,183.4 L368.1,183.8 L369.3,184.9 L370.7,184.7 L372.0,186.0 L373.4,185.8 L374.7,187.2 L376.1,186.0 L377.6,187.2 L379.1,187.9 L380.5,188.6 L382.0,188.0 L383.5,188.7 L385.0,189.5 L386.6,188.5 L388.2,188.1 L389.8,187.9 L391.3,189.6 L392.9,188.9 L394.6,188.8 L396.3,189.1 L397.9,188.3 L399.6,188.5 L401.1,188.5 L402.4,188.5 L403.6,189.6 L405.8,188.0 L407.2,187.2 L408.0,188.4" fill="none" stroke="#e8582e" stroke-width="1.6" stroke-linejoin="round" />
<path d="M230.2,265.2 L230.8,267.8 L231.6,269.4 L232.5,269.9 L233.3,268.8 L234.1,268.8 L235.0,267.7 L236.5,266.2 L238.0,266.0 L239.0,266.1 L240.0,266.7 L241.0,268.2 L242.0,268.2 L243.0,266.0 L244.0,267.2 L245.5,266.5 L247.0,267.4 L248.5,266.6 L250.0,268.7 L251.0,268.9 L252.0,270.3 L253.0,270.3 L254.0,268.3 L255.0,268.0 L256.0,268.0 L256.9,268.0 L257.7,271.6 L258.5,271.2 L259.8,270.2 L261.0,270.8 L262.2,268.7 L263.5,270.0 L264.3,268.2 L265.2,267.5 L266.0,265.6 L266.4,265.1 L266.8,263.3 L267.2,261.8 L267.7,262.6 L268.1,259.8 L268.5,259.7 L268.8,257.2 L269.2,257.8 L269.5,256.4 L269.9,254.7 L270.2,253.4 L270.5,251.7 L270.9,250.8 L271.2,248.1 L271.6,247.6 L271.9,247.1 L272.3,244.3 L272.7,244.7 L273.0,243.4 L273.4,241.0 L273.7,239.7 L274.1,238.5 L274.4,236.9 L274.7,237.0 L275.1,234.3 L275.4,232.2 L275.7,231.4 L276.6,230.7 L277.5,230.7 L278.1,230.9 L278.8,233.1 L279.5,233.6 L279.7,233.6 L280.0,231.7 L280.2,231.8 L280.5,230.6 L280.7,229.7 L281.0,227.4 L281.3,226.0 L281.5,225.0 L281.8,224.9 L282.1,221.9 L282.4,220.8 L282.6,219.1 L282.7,217.6 L282.9,216.4 L283.1,217.1 L283.3,215.8 L283.5,213.6 L283.6,213.1 L283.8,211.8 L284.0,211.0 L284.2,209.8 L284.4,207.2 L284.6,207.2 L284.7,205.8 L284.9,203.6 L285.1,203.0 L285.3,200.8 L285.5,199.2 L285.6,197.6 L285.8,197.9 L286.0,194.9 L286.1,193.4 L286.3,193.9 L286.5,192.6 L286.6,190.6 L286.8,190.2 L286.9,187.1 L287.1,186.3 L287.2,185.1 L287.4,184.2 L287.6,182.4 L287.7,180.9 L287.9,180.3 L288.0,180.4 L288.2,179.4 L288.4,177.6 L288.5,175.7 L288.7,173.9 L288.9,174.3 L289.1,172.0 L289.2,171.2 L289.4,168.2 L289.6,167.3 L289.8,167.4 L290.0,166.0 L290.2,164.9 L290.4,162.9 L290.6,161.1 L290.8,160.2 L290.9,159.7 L291.1,157.2 L291.3,156.6 L291.5,154.8 L291.7,155.0 L291.9,152.2 L292.1,152.9 L292.6,151.5 L293.1,147.4 L293.6,147.2 L294.0,146.1 L294.5,145.6 L295.0,144.4 L295.5,143.4 L296.0,144.2 L296.5,146.7 L297.0,148.2 L297.4,148.2 L297.9,149.7 L298.4,151.0 L298.9,151.4 L299.5,151.9 L300.0,149.9 L300.5,150.0 L301.1,147.8 L301.6,145.2 L302.2,145.8 L302.7,145.8 L303.1,147.4 L303.6,148.3 L304.1,149.9 L304.6,151.6 L305.1,153.3 L305.6,154.7 L306.4,154.0 L307.3,151.5 L308.2,151.4 L309.1,150.5 L310.0,149.8 L310.7,150.4 L311.3,149.7 L312.0,152.4 L312.6,153.0 L313.3,156.0 L314.0,155.1 L314.8,156.1 L315.7,154.1 L316.6,153.9 L317.5,151.7 L318.4,150.1 L319.1,150.5 L320.0,151.2 L320.6,154.4 L321.3,154.7 L322.0,156.0 L322.7,155.6 L323.6,155.3 L324.4,151.7 L325.2,151.7 L325.9,151.0 L326.5,152.2 L327.0,154.1 L327.5,154.1 L328.0,156.5 L328.4,157.0 L329.2,155.8 L330.1,154.2 L330.4,156.6 L330.6,157.9 L330.9,157.5 L331.3,158.7 L331.6,161.7 L331.9,161.0 L332.3,162.3 L332.7,163.6 L333.1,166.7 L333.5,167.6 L334.1,168.2 L334.8,169.8 L335.6,169.5 L336.3,172.0 L337.1,172.6 L337.8,173.9 L338.5,174.7 L339.1,175.8 L339.7,176.5 L340.2,177.2 L340.8,179.2 L341.3,179.9 L341.9,182.1 L342.4,183.6 L343.0,184.5 L343.5,184.9 L344.0,185.4 L344.4,186.8 L344.9,188.1 L345.4,189.5 L345.9,191.4 L346.4,190.5 L346.9,192.7 L347.5,194.0 L348.0,195.6 L348.5,197.1 L349.0,198.0 L349.5,198.8 L350.1,200.3 L350.6,201.3 L351.2,203.0 L351.8,203.9 L352.3,205.1 L352.9,205.2 L353.5,207.9 L354.0,207.7 L354.6,209.5 L355.3,211.2 L355.9,212.8 L356.6,214.0 L357.2,212.7 L357.8,214.6 L358.5,215.6 L359.1,216.8 L359.8,217.2 L360.4,219.0 L361.3,219.0 L362.2,220.6 L363.0,223.0 L363.9,223.4 L364.8,223.5 L365.8,223.5 L366.9,226.4 L367.8,226.5 L368.8,226.1 L369.7,227.2 L370.8,228.7 L371.8,229.6 L372.9,229.3 L374.1,231.7 L375.3,230.8 L376.5,231.2 L377.5,233.1 L378.6,231.8 L379.6,233.5 L380.7,232.7 L381.8,234.0 L383.0,233.5 L384.2,234.0 L385.4,235.6 L386.7,234.7 L388.0,234.8 L389.4,235.3 L390.5,234.5 L391.7,234.2 L393.1,234.7 L394.4,234.3 L395.9,234.0 L397.3,235.7 L398.8,233.4 L400.2,235.1 L401.6,235.2 L403.0,234.5 L404.2,232.7 L405.4,233.7 L406.4,232.5 L407.3,233.7 L408.0,233.9" fill="none" stroke="#c98ac8" stroke-width="1.4" stroke-linejoin="round" />
<path d="M230.2,268.1 L231.2,267.6 L232.5,268.4 L233.3,270.0 L234.1,266.7 L235.0,265.6 L236.5,266.9 L238.0,266.6 L239.5,268.5 L241.0,267.4 L242.5,268.6 L244.0,266.6 L245.5,268.0 L247.0,269.5 L248.5,268.1 L250.0,268.0 L251.0,268.2 L252.0,267.7 L253.0,270.4 L254.5,269.2 L256.0,268.0 L257.3,268.8 L258.5,271.3 L259.8,270.4 L261.0,270.6 L262.2,269.8 L263.5,269.6 L264.3,268.0 L265.2,267.3 L266.0,265.8 L266.4,264.0 L266.8,264.7 L267.2,262.0 L267.7,261.9 L268.1,261.0 L268.5,258.9 L268.8,256.5 L269.2,257.0 L269.5,255.3 L269.9,252.9 L270.2,251.2 L270.5,251.1 L270.9,248.6 L271.2,249.5 L271.6,247.2 L271.9,245.9 L272.3,244.3 L272.7,243.6 L273.0,242.9 L273.4,240.2 L273.7,239.2 L274.1,238.3 L274.4,236.2 L274.7,235.6 L275.1,234.2 L275.4,232.8 L275.7,232.4 L276.6,229.8 L277.5,228.0 L278.1,231.6 L278.8,232.3 L279.5,232.8 L279.7,232.3 L280.0,232.8 L280.2,232.0 L280.5,229.9 L280.7,228.5 L281.0,226.4 L281.3,227.0 L281.5,223.8 L281.8,223.2 L282.1,221.2 L282.4,219.6 L282.6,218.6 L282.8,217.2 L283.0,215.7 L283.2,215.7 L283.4,215.1 L283.6,213.5 L283.8,211.2 L284.0,211.1 L284.2,208.3 L284.4,207.8 L284.6,207.5 L284.8,206.4 L285.0,204.0 L285.2,203.7 L285.4,201.5 L285.6,200.3 L285.8,199.2 L286.0,198.9 L286.2,197.0 L286.3,195.0 L286.5,194.3 L286.6,192.7 L286.8,190.6 L286.9,190.2 L287.1,189.0 L287.2,187.1 L287.4,186.6 L287.5,183.1 L287.7,183.0 L287.9,182.1 L288.1,180.3 L288.3,178.8 L288.5,179.1 L288.7,177.6 L289.3,175.5 L290.0,173.7 L290.7,175.0 L291.5,172.7 L292.3,171.6 L293.1,171.2 L293.8,170.5 L294.6,171.0 L295.4,168.5 L296.2,167.8 L297.1,166.5 L298.0,166.7 L298.9,165.3 L299.9,165.0 L301.1,165.4 L302.2,165.3 L303.4,164.6 L304.6,162.1 L305.6,162.3 L306.7,162.5 L307.7,159.6 L308.7,158.9 L309.7,158.6 L310.7,157.3 L311.6,157.4 L312.6,156.6 L313.6,155.2 L314.6,154.0 L315.6,153.2 L316.5,152.4 L317.4,151.1 L318.2,151.5 L319.0,149.3 L319.8,150.1 L320.7,148.6 L321.7,146.5 L322.9,147.1 L324.2,146.9 L325.6,145.2 L326.9,146.1 L328.2,144.9 L329.3,146.6 L330.6,145.0 L331.7,146.9 L332.6,148.5 L333.5,149.3 L334.0,148.7 L334.5,150.5 L335.0,150.6 L335.4,152.4 L335.9,155.0 L336.4,156.2 L336.9,155.7 L337.3,157.7 L337.7,159.4 L338.1,159.5 L338.5,162.2 L338.9,163.6 L339.4,164.1 L339.8,164.8 L340.2,167.2 L340.7,167.6 L341.1,168.0 L341.6,169.4 L342.0,170.2 L342.5,173.0 L342.9,173.3 L343.4,174.8 L343.8,176.2 L344.3,177.7 L344.8,176.9 L345.3,178.6 L345.8,180.8 L346.3,181.6 L346.8,181.8 L347.3,183.6 L347.8,183.6 L348.4,184.7 L348.9,185.5 L349.4,187.5 L349.9,188.2 L350.4,190.0 L350.9,192.4 L351.5,191.7 L352.0,193.9 L352.5,195.9 L353.0,196.6 L353.5,197.6 L354.0,199.4 L354.5,198.8 L355.0,202.1 L355.5,202.8 L356.0,204.2 L356.5,205.4 L356.9,204.8 L357.4,205.8 L358.0,207.2 L358.8,209.2 L359.4,211.2 L360.1,212.1 L360.9,211.8 L361.7,213.3 L362.5,214.6 L363.3,214.7 L364.2,217.2 L365.1,218.1 L366.0,218.5 L366.9,219.9 L367.8,220.5 L368.7,221.0 L369.6,221.1 L370.5,221.8 L371.4,222.6 L372.4,222.9 L373.3,225.8 L374.3,225.0 L375.4,225.1 L376.5,226.5 L377.5,226.5 L378.6,227.9 L379.6,228.2 L380.7,228.3 L381.8,229.6 L383.0,229.9 L384.2,230.2 L385.4,231.7 L386.7,230.8 L388.0,231.6 L389.4,232.7 L390.5,233.0 L391.7,231.7 L393.1,231.0 L394.4,233.2 L395.9,232.2 L397.3,231.5 L398.8,231.2 L400.2,231.5 L401.6,231.6 L403.0,231.1 L404.2,230.8 L405.4,233.1 L406.4,232.6 L407.3,230.9 L408.0,231.8" fill="none" stroke="#5a6670" stroke-width="1.6" stroke-dasharray="2.5,1.5" stroke-linejoin="round" />
<line x1="357.7" y1="117.9" x2="375.8" y2="117.9" stroke="#e8582e" stroke-width="1.8"/>
<text x="375.8" y="121.0" font-size="9" text-anchor="start" fill="#222" style="color:#222" >90<tspan x="387.3" dy="-1.5" font-size="7">°</tspan><tspan dy="1.5">C</tspan></text>
<line x1="357.7" y1="129.5" x2="375.8" y2="129.5" stroke="#a9c95e" stroke-width="1.8"/>
<text x="375.8" y="132.6" font-size="9" text-anchor="start" fill="#222" style="color:#222" >60<tspan x="387.3" dy="-1.5" font-size="7">°</tspan><tspan dy="1.5">C</tspan></text>
<line x1="357.7" y1="142.8" x2="375.8" y2="142.8" stroke="#111" stroke-width="1.8"/>
<text x="375.8" y="145.9" font-size="9" text-anchor="start" fill="#222" style="color:#222" >22<tspan x="387.3" dy="-1.5" font-size="7">°</tspan><tspan dy="1.5">C</tspan></text>
<line x1="357.7" y1="154.7" x2="375.8" y2="154.7" stroke="#2aa6d6" stroke-width="1.8"/>
<text x="379.3" y="157.8" font-size="9" text-anchor="start" fill="#222" style="color:#222" >4<tspan x="387.3" dy="-1.5" font-size="7">°</tspan><tspan dy="1.5">C</tspan></text>
<line x1="348.1" y1="247.0" x2="366.3" y2="247.0" stroke="#c98ac8" stroke-width="1.5"/>
<text x="367.6" y="250.0" font-size="8.3" text-anchor="start" fill="#222" style="color:#222" >HDA ice</text>
<line x1="348.1" y1="258.2" x2="366.3" y2="258.2" stroke="#5a6670" stroke-width="1.5" stroke-dasharray="2.6,1.8"/>
<text x="367.6" y="261.2" font-size="8.3" text-anchor="start" fill="#222" style="color:#222" >LDA ice</text>
<rect x="418.0" y="18.5" width="170.9" height="260.6" fill="none" stroke="#444" stroke-width="1.3"/>
<line x1="439.1" y1="279.1" x2="439.1" y2="276.1" stroke="#444" stroke-width="1"/>
<line x1="460.5" y1="279.1" x2="460.5" y2="274.1" stroke="#444" stroke-width="1"/>
<line x1="481.9" y1="279.1" x2="481.9" y2="276.1" stroke="#444" stroke-width="1"/>
<line x1="503.3" y1="279.1" x2="503.3" y2="274.1" stroke="#444" stroke-width="1"/>
<line x1="524.7" y1="279.1" x2="524.7" y2="276.1" stroke="#444" stroke-width="1"/>
<line x1="546.1" y1="279.1" x2="546.1" y2="274.1" stroke="#444" stroke-width="1"/>
<line x1="567.5" y1="279.1" x2="567.5" y2="276.1" stroke="#444" stroke-width="1"/>
<text x="422.8" y="290.0" font-size="9" text-anchor="middle" fill="#222" style="color:#222" >524</text>
<text x="461.0" y="290.0" font-size="9" text-anchor="middle" fill="#222" style="color:#222" >525</text>
<text x="504.0" y="290.0" font-size="9" text-anchor="middle" fill="#222" style="color:#222" >526</text>
<text x="546.4" y="290.0" font-size="9" text-anchor="middle" fill="#222" style="color:#222" >527</text>
<text x="583.2" y="290.0" font-size="9" text-anchor="middle" fill="#222" style="color:#222" >528</text>
<text x="500.8" y="305.2" font-size="11" text-anchor="middle" fill="#222" style="color:#222" >Photon energy [eV]</text>
<text x="536.4" y="31.0" font-size="9" text-anchor="start" fill="#222" style="color:#222" >(c) XES D<tspan font-size="6" dy="2">2</tspan><tspan dy="-2">O</tspan></text>
<rect x="418.3" y="18.5" width="109.2" height="65.0" fill="none" stroke="#444" stroke-width="1.1"/>
<line x1="418.3" y1="76.6" x2="527.5" y2="76.6" stroke="#444" stroke-width="0.8"/>
<line x1="420.2" y1="76.6" x2="420.2" y2="74.8" stroke="#444" stroke-width="0.7"/>
<line x1="425.2" y1="76.6" x2="425.2" y2="73.6" stroke="#444" stroke-width="0.7"/>
<line x1="430.2" y1="76.6" x2="430.2" y2="74.8" stroke="#444" stroke-width="0.7"/>
<line x1="435.1" y1="76.6" x2="435.1" y2="74.8" stroke="#444" stroke-width="0.7"/>
<line x1="440.1" y1="76.6" x2="440.1" y2="74.8" stroke="#444" stroke-width="0.7"/>
<line x1="445.0" y1="76.6" x2="445.0" y2="74.8" stroke="#444" stroke-width="0.7"/>
<line x1="450.0" y1="76.6" x2="450.0" y2="73.6" stroke="#444" stroke-width="0.7"/>
<line x1="455.0" y1="76.6" x2="455.0" y2="74.8" stroke="#444" stroke-width="0.7"/>
<line x1="459.9" y1="76.6" x2="459.9" y2="74.8" stroke="#444" stroke-width="0.7"/>
<line x1="464.9" y1="76.6" x2="464.9" y2="74.8" stroke="#444" stroke-width="0.7"/>
<line x1="469.8" y1="76.6" x2="469.8" y2="74.8" stroke="#444" stroke-width="0.7"/>
<line x1="474.8" y1="76.6" x2="474.8" y2="73.6" stroke="#444" stroke-width="0.7"/>
<line x1="479.8" y1="76.6" x2="479.8" y2="74.8" stroke="#444" stroke-width="0.7"/>
<line x1="484.7" y1="76.6" x2="484.7" y2="74.8" stroke="#444" stroke-width="0.7"/>
<line x1="489.7" y1="76.6" x2="489.7" y2="74.8" stroke="#444" stroke-width="0.7"/>
<line x1="494.6" y1="76.6" x2="494.6" y2="74.8" stroke="#444" stroke-width="0.7"/>
<line x1="499.6" y1="76.6" x2="499.6" y2="73.6" stroke="#444" stroke-width="0.7"/>
<line x1="504.6" y1="76.6" x2="504.6" y2="74.8" stroke="#444" stroke-width="0.7"/>
<line x1="509.5" y1="76.6" x2="509.5" y2="74.8" stroke="#444" stroke-width="0.7"/>
<line x1="514.5" y1="76.6" x2="514.5" y2="74.8" stroke="#444" stroke-width="0.7"/>
<line x1="519.4" y1="76.6" x2="519.4" y2="74.8" stroke="#444" stroke-width="0.7"/>
<line x1="524.4" y1="76.6" x2="524.4" y2="73.6" stroke="#444" stroke-width="0.7"/>
<text x="424.3" y="83.3" font-size="6.5" text-anchor="middle" fill="#555" style="color:#555" >530</text>
<text x="450.8" y="83.3" font-size="6.5" text-anchor="middle" fill="#555" style="color:#555" >535</text>
<text x="474.6" y="83.3" font-size="6.5" text-anchor="middle" fill="#555" style="color:#555" >540</text>
<text x="499.1" y="83.3" font-size="6.5" text-anchor="middle" fill="#555" style="color:#555" >545</text>
<text x="523.7" y="83.3" font-size="6.5" text-anchor="middle" fill="#555" style="color:#555" >550</text>
<path d="M418.8,74.7 L419.6,74.6 L420.6,74.6 L421.9,74.9 L423.2,74.8 L424.7,74.8 L426.1,74.7 L427.5,74.6 L428.8,74.7 L430.2,74.6 L431.7,74.7 L433.1,74.7 L434.5,74.8 L435.8,74.6 L437.0,74.3 L438.0,74.2 L439.6,74.1 L440.5,73.2 L441.4,72.6 L442.1,71.6 L442.8,70.2 L443.4,69.3 L444.0,67.8 L444.6,67.1 L445.2,65.9 L445.8,64.5 L446.4,63.6 L447.0,62.3 L447.6,60.7 L448.2,59.7 L448.8,58.4 L450.5,57.6 L451.5,58.8 L452.5,60.1 L454.2,58.4 L454.4,57.7 L454.6,56.9 L454.8,55.7 L455.0,54.2 L455.2,53.2 L455.4,51.8 L455.6,50.1 L455.8,48.7 L456.0,47.7 L456.2,46.4 L456.5,45.1 L456.8,43.6 L457.1,42.2 L457.4,40.7 L457.7,39.5 L458.0,38.5 L458.3,37.5 L458.6,36.5 L459.4,34.9 L460.2,33.7 L461.1,33.1 L462.2,32.3 L463.4,31.6 L464.8,31.4 L465.9,31.6 L467.2,32.1 L468.4,33.1 L469.7,33.6 L471.0,33.9 L472.2,34.0 L473.5,34.7 L474.6,34.8 L475.9,35.7 L477.0,36.0 L478.3,36.6 L479.4,37.0 L480.5,37.4 L481.8,38.3 L483.2,39.2 L484.1,39.5 L485.1,40.4 L486.2,41.4 L487.2,42.3 L488.3,43.1 L489.4,44.1 L490.5,45.3 L491.4,45.9 L492.3,46.8 L493.3,48.0 L494.2,48.8 L495.1,50.0 L496.0,50.7 L497.0,51.9 L497.9,52.4 L499.0,53.5 L500.0,54.3 L501.1,55.0 L502.1,55.5 L503.2,56.1 L504.2,56.6 L505.3,57.2 L506.5,58.0 L507.7,58.1 L508.9,58.5 L510.2,58.9 L511.4,59.0 L512.6,59.3 L513.9,59.5 L515.2,60.0 L516.4,59.9 L517.7,60.6 L518.9,60.5 L520.0,60.7 L521.5,60.7 L522.9,60.7 L524.1,60.9 L524.9,60.8" fill="none" stroke="#111" stroke-width="1.5" stroke-linejoin="round" />
<line x1="450.5" y1="59.0" x2="450.5" y2="76.6" stroke="#555" stroke-width="0.9" stroke-dasharray="1.2,1.5"/>
<line x1="460.3" y1="34.0" x2="460.3" y2="76.6" stroke="#555" stroke-width="0.9" stroke-dasharray="1.2,1.5"/>
<line x1="480.7" y1="38.0" x2="480.7" y2="76.6" stroke="#555" stroke-width="0.9" stroke-dasharray="1.2,1.5"/>
<line x1="524.4" y1="61.0" x2="524.4" y2="76.6" stroke="#555" stroke-width="0.9" stroke-dasharray="1.2,1.5"/>
<line x1="450.5" y1="43.9" x2="450.5" y2="52.0" stroke="#e02a2a" stroke-width="1.3"/>
<polygon points="450.5,57.4 448.0,51.9 453.0,51.9" fill="#e02a2a"/>
<line x1="460.3" y1="19.4" x2="460.3" y2="26.0" stroke="#d99ad6" stroke-width="1.3"/>
<polygon points="460.3,31.6 457.8,26.1 462.8,26.1" fill="#d99ad6"/>
<line x1="480.7" y1="23.0" x2="480.7" y2="31.0" stroke="#2a70c0" stroke-width="1.3"/>
<polygon points="480.7,36.5 478.2,31.0 483.2,31.0" fill="#2a70c0"/>
<line x1="524.4" y1="47.6" x2="524.4" y2="54.5" stroke="#111" stroke-width="1.3"/>
<polygon points="524.4,59.9 521.9,54.4 526.9,54.4" fill="#111"/>
<text x="437.8" y="51.8" font-size="8.7" text-anchor="start" fill="#222" style="color:#222" >(1)</text>
<text x="446.4" y="27.8" font-size="8.7" text-anchor="start" fill="#222" style="color:#222" >(2)</text>
<text x="468.9" y="27.8" font-size="8.7" text-anchor="start" fill="#222" style="color:#222" >(3)</text>
<text x="486.9" y="31.0" font-size="9" text-anchor="start" fill="#222" style="color:#222" >XRS D<tspan font-size="6" dy="2">2</tspan><tspan dy="-2">O</tspan></text>
<path d="M418.5,157.6 L419.4,157.4 L420.6,157.2 L422.0,157.0 L423.6,156.2 L425.3,155.6 L427.1,155.0 L428.8,154.7 L430.0,153.7 L431.3,153.4 L432.6,152.6 L433.9,151.5 L435.3,151.0 L436.7,150.1 L438.1,149.4 L439.6,149.0 L441.1,147.9 L442.6,147.3 L444.0,147.5 L445.5,146.9 L447.1,146.6 L448.7,146.5 L450.3,146.4 L451.9,146.7 L453.5,146.1 L455.0,146.0 L456.5,146.1 L457.9,145.9 L459.2,146.0 L461.1,145.5 L462.8,144.8 L464.4,144.3 L465.9,144.2 L467.3,143.7 L468.7,142.5 L470.2,142.2 L471.7,141.5 L473.2,140.5 L474.7,139.3 L476.1,138.7 L477.5,137.6 L478.7,136.2 L479.9,135.3 L480.9,133.8 L481.8,132.4 L482.6,131.3 L483.3,129.9 L484.0,128.5 L484.7,127.2 L485.4,125.8 L486.1,124.5 L486.7,123.1 L487.4,121.7 L488.1,120.1 L488.7,118.3 L489.4,116.8 L490.1,115.8 L490.9,114.5 L492.0,113.1 L493.1,111.4 L494.3,110.1 L495.5,109.4 L496.7,108.3 L497.8,107.7 L499.4,106.9 L500.8,107.2 L502.3,108.0 L504.0,108.6 L505.3,109.5 L506.7,109.9 L508.1,111.2 L509.5,112.4 L510.8,113.2 L512.0,114.2 L513.7,115.6 L514.9,116.5 L516.6,115.7 L517.2,115.4 L517.9,113.8 L518.6,112.5 L519.3,111.1 L520.1,109.8 L520.9,108.1 L521.7,106.2 L522.5,104.5 L523.3,103.0 L524.0,101.2 L524.8,99.9 L525.7,98.5 L526.7,97.0 L527.6,95.2 L528.6,93.8 L529.5,92.5 L530.5,91.6 L531.4,90.4 L532.2,89.6 L533.0,88.7 L535.1,86.7 L536.8,86.4 L538.6,86.8 L539.7,86.9 L540.7,87.5 L541.8,88.9 L542.9,90.4 L544.1,92.3 L544.7,93.3 L545.3,94.6 L545.9,96.4 L546.5,97.3 L547.2,99.2 L547.8,100.5 L548.5,102.1 L549.1,104.2 L549.8,105.5 L550.4,107.1 L551.0,109.0 L551.5,110.5 L552.0,111.9 L552.5,113.6 L553.0,114.9 L553.5,116.5 L554.0,118.2 L554.4,119.6 L554.9,121.4 L555.4,122.8 L555.9,124.2 L556.3,125.7 L556.8,127.7 L557.3,129.1 L557.8,130.7 L558.2,132.0 L558.7,133.4 L559.2,134.6 L559.6,136.5 L560.1,137.4 L560.5,139.0 L561.0,140.3 L561.5,141.8 L562.0,143.2 L562.5,144.7 L563.0,146.2 L563.5,147.5 L564.0,148.8 L564.6,150.5 L565.2,152.0 L565.8,153.6 L566.4,154.6 L567.0,156.4 L567.7,158.0 L568.3,159.1 L568.9,160.4 L569.5,162.1 L570.1,163.1 L570.7,164.3 L571.2,165.7 L572.2,167.3 L573.1,168.8 L573.9,170.3 L574.8,171.7 L575.6,173.1 L576.5,173.9 L577.3,175.2 L578.8,176.2 L580.2,177.3 L581.6,178.3 L583.0,179.0 L585.1,179.9 L587.1,180.8 L588.5,180.9" fill="none" stroke="#505050" stroke-width="0.9" stroke-linejoin="round" />
<path d="M418.5,154.2 L419.4,153.9 L420.6,153.5 L422.0,153.3 L423.6,152.4 L425.3,151.8 L427.1,150.7 L428.8,150.4 L430.2,150.2 L431.6,149.5 L433.0,149.2 L434.5,148.7 L436.1,147.8 L437.7,147.1 L439.3,147.2 L440.9,146.4 L442.6,146.0 L444.0,146.2 L445.5,146.2 L447.1,146.1 L448.7,146.1 L450.3,145.5 L451.9,145.4 L453.5,145.3 L455.0,145.8 L456.5,145.1 L457.9,144.9 L459.2,144.6 L460.9,144.1 L462.4,143.6 L463.8,143.2 L465.1,142.4 L466.4,141.8 L467.7,141.5 L468.9,140.1 L470.2,139.6 L471.4,138.7 L472.5,137.6 L473.7,136.6 L474.8,135.6 L475.9,134.4 L477.0,133.0 L478.1,131.9 L479.0,130.7 L479.9,129.6 L480.8,128.7 L481.6,127.0 L482.3,125.4 L482.9,124.3 L483.5,123.1 L484.1,121.4 L484.7,120.2 L485.4,118.4 L486.1,117.0 L486.7,116.0 L487.4,114.1 L488.1,112.8 L488.7,111.5 L489.4,110.0 L490.1,108.5 L490.9,107.3 L491.8,106.5 L492.8,104.8 L493.8,103.6 L494.8,101.9 L495.8,101.1 L496.8,100.1 L497.8,99.4 L499.3,99.2 L500.8,99.8 L502.3,100.7 L504.2,101.9 L505.5,102.8 L507.1,103.3 L508.7,104.7 L510.4,105.4 L512.0,106.2 L513.6,106.8 L514.9,106.7 L516.2,105.9 L517.2,105.0 L518.2,103.6 L519.1,102.1 L520.0,101.3 L521.1,99.6 L522.1,98.6 L523.1,97.1 L524.2,95.3 L525.3,94.3 L526.4,92.9 L527.5,91.3 L528.7,90.0 L530.2,89.1 L531.8,88.1 L533.4,87.5 L535.1,86.7 L536.6,86.9 L538.0,87.0 L539.4,86.8 L540.7,87.8 L541.8,88.6 L542.9,90.0 L544.1,92.2 L544.7,92.9 L545.2,94.4 L545.8,95.2 L546.3,97.3 L546.9,98.3 L547.4,99.8 L548.0,102.1 L548.5,103.7 L549.1,105.4 L549.6,107.2 L550.2,108.6 L550.7,109.9 L551.1,111.5 L551.6,113.4 L552.1,115.0 L552.5,116.0 L553.0,117.8 L553.5,119.4 L553.9,121.3 L554.4,122.2 L554.9,124.4 L555.4,125.5 L555.8,127.2 L556.3,128.4 L556.8,130.0 L557.3,132.1 L557.8,133.4 L558.3,135.3 L558.8,136.7 L559.3,138.2 L559.8,139.2 L560.3,141.1 L560.8,142.9 L561.4,144.1 L561.9,145.3 L562.5,146.9 L563.0,148.9 L563.6,150.4 L564.2,151.4 L564.8,152.9 L565.4,154.7 L566.0,156.1 L566.7,157.4 L567.3,159.4 L567.9,160.6 L568.5,161.8 L569.1,162.8 L569.7,164.4 L570.2,165.7 L571.2,167.2 L572.1,168.7 L572.9,170.7 L573.8,172.1 L574.6,172.9 L575.5,174.0 L576.3,175.1 L577.7,176.4 L579.1,177.0 L580.5,177.7 L582.0,178.3 L583.7,178.9 L585.6,179.3 L587.3,179.9 L588.5,180.1" fill="none" stroke="#24579c" stroke-width="1.8" stroke-linejoin="round" />
<path d="M418.5,204.5 L419.4,204.2 L420.5,203.8 L421.9,202.9 L423.4,202.5 L425.1,201.9 L426.8,201.2 L428.6,200.0 L430.3,199.6 L431.6,199.1 L432.9,198.4 L434.2,198.1 L435.6,197.3 L437.1,196.6 L438.5,196.3 L440.0,195.6 L441.4,194.8 L442.9,194.3 L444.3,193.9 L445.7,193.2 L447.2,193.2 L448.8,192.9 L450.3,192.4 L451.8,192.4 L453.4,192.3 L454.9,191.8 L456.4,191.6 L457.9,191.0 L459.5,190.6 L461.0,190.8 L462.6,189.9 L464.2,189.3 L465.8,189.2 L467.5,188.5 L469.1,187.5 L470.7,187.0 L472.3,186.3 L473.7,185.7 L475.1,184.9 L476.3,184.5 L478.0,183.3 L479.5,182.3 L480.7,181.2 L481.8,180.0 L482.9,178.7 L484.0,177.7 L484.8,176.4 L485.6,174.8 L486.4,173.0 L487.1,171.4 L487.8,169.8 L488.6,168.4 L489.4,166.9 L490.2,165.9 L491.4,164.5 L492.7,163.4 L494.1,162.7 L495.4,161.8 L496.7,161.1 L497.8,160.6 L499.4,160.5 L500.7,161.1 L502.4,161.4 L503.7,161.8 L505.2,162.7 L506.8,163.4 L508.4,164.1 L510.1,163.6 L511.4,163.6 L512.7,162.4 L514.0,161.8 L515.4,160.8 L516.8,159.5 L518.1,158.6 L519.3,157.1 L520.2,155.7 L521.0,154.6 L521.8,153.3 L522.6,151.6 L523.4,150.2 L524.1,149.0 L524.9,147.6 L525.7,145.9 L526.6,144.5 L527.4,143.2 L528.3,141.6 L529.3,140.5 L530.2,139.0 L531.2,137.2 L532.1,135.5 L533.0,134.4 L533.8,133.5 L534.6,132.2 L535.2,131.3 L537.7,131.3 L538.5,132.4 L539.5,133.3 L540.6,134.3 L541.7,136.0 L542.8,137.8 L543.8,139.9 L544.3,141.0 L544.7,142.0 L545.2,143.6 L545.6,145.1 L546.0,146.5 L546.4,148.0 L546.9,149.5 L547.3,151.2 L547.7,153.2 L548.2,154.9 L548.7,156.9 L549.0,157.9 L549.3,159.1 L549.7,160.6 L550.0,162.2 L550.4,163.7 L550.7,165.0 L551.1,166.5 L551.5,168.5 L551.8,169.6 L552.2,171.6 L552.6,173.1 L552.9,174.6 L553.3,176.3 L553.7,177.7 L554.1,178.7 L554.5,180.7 L554.8,181.7 L555.2,183.3 L555.7,185.0 L556.2,186.3 L556.7,187.9 L557.2,189.4 L557.7,191.5 L558.2,193.0 L558.7,194.1 L559.2,195.5 L559.8,197.0 L560.3,198.6 L560.9,199.9 L561.5,201.3 L562.1,202.7 L562.9,204.0 L563.7,205.5 L564.5,206.4 L565.4,207.8 L566.3,209.6 L567.2,210.7 L568.1,211.7 L569.0,212.8 L569.9,214.0 L570.8,215.1 L571.7,216.2 L572.9,217.5 L574.2,218.6 L575.4,219.7 L576.7,220.8 L577.9,221.8 L579.2,222.6 L580.3,223.7 L581.4,224.3 L583.1,225.8 L584.8,226.5 L586.3,227.1 L587.6,227.8 L588.5,227.9" fill="none" stroke="#d585cf" stroke-width="2.0" stroke-linejoin="round" />
<path d="M418.5,203.7 L419.4,203.4 L420.5,203.1 L421.9,202.6 L423.4,202.0 L425.1,201.1 L426.8,200.7 L428.6,199.7 L430.3,199.0 L431.6,198.3 L432.9,198.0 L434.2,197.2 L435.6,196.7 L437.1,196.3 L438.5,195.8 L440.0,195.1 L441.4,194.2 L442.9,193.6 L444.3,193.2 L445.7,192.9 L447.2,192.7 L448.8,192.3 L450.3,192.1 L451.8,191.7 L453.4,191.5 L454.9,191.1 L456.4,190.8 L457.9,190.5 L459.5,190.3 L461.0,190.0 L462.4,189.5 L463.9,188.9 L465.4,188.4 L466.9,187.8 L468.4,187.6 L469.9,186.8 L471.3,186.3 L472.7,185.8 L474.0,184.8 L475.2,184.1 L476.3,183.6 L477.8,183.0 L479.1,182.0 L480.2,180.8 L481.2,180.0 L482.1,178.6 L483.0,177.7 L484.0,175.9 L484.7,175.0 L485.5,173.7 L486.1,171.9 L486.8,170.3 L487.4,168.5 L488.1,167.0 L488.8,165.4 L489.5,164.1 L490.2,162.7 L491.4,161.3 L492.7,159.7 L494.1,158.6 L495.4,157.5 L496.7,156.5 L497.8,156.4 L499.4,155.8 L500.7,156.6 L502.4,157.9 L503.7,158.8 L505.2,160.1 L506.8,161.1 L508.4,162.2 L510.1,162.0 L511.3,162.2 L512.7,161.4 L514.0,160.7 L515.4,160.0 L516.7,158.9 L518.0,157.5 L519.3,156.2 L520.2,155.1 L521.1,154.3 L522.0,152.7 L522.8,151.1 L523.7,149.8 L524.5,148.1 L525.4,146.7 L526.3,145.4 L527.2,144.3 L528.1,142.9 L529.0,141.2 L529.9,139.8 L530.9,138.0 L531.8,136.7 L532.8,135.5 L533.7,133.7 L534.6,133.1 L535.5,132.4 L536.4,131.6 L537.6,131.8 L538.8,132.4 L539.9,132.7 L541.0,134.2 L542.1,135.8 L543.1,137.7 L544.1,139.3 L544.6,140.7 L545.1,141.8 L545.6,143.2 L546.0,144.5 L546.4,146.0 L546.9,147.4 L547.3,148.9 L547.7,150.5 L548.2,152.2 L548.6,154.0 L549.1,155.7 L549.6,157.5 L550.2,159.2 L550.6,160.6 L551.0,162.3 L551.4,163.4 L551.9,165.2 L552.3,166.6 L552.7,167.9 L553.2,169.4 L553.7,171.3 L554.1,173.0 L554.6,174.2 L555.1,176.0 L555.5,177.6 L556.0,179.1 L556.5,180.3 L557.0,181.9 L557.5,183.6 L558.0,185.0 L558.4,186.4 L558.9,187.5 L559.5,189.5 L560.2,191.1 L560.8,192.6 L561.4,194.4 L562.1,195.6 L562.7,197.3 L563.4,198.7 L564.0,200.4 L564.7,201.8 L565.3,202.8 L566.0,204.4 L566.7,205.3 L567.4,206.9 L568.1,208.1 L569.0,209.5 L570.0,210.5 L571.0,212.1 L572.1,213.3 L573.1,214.8 L574.2,215.7 L575.2,216.8 L576.3,217.9 L577.3,219.3 L578.3,220.1 L579.2,221.0 L581.0,222.2 L582.8,222.9 L584.5,223.6 L586.2,223.8 L587.5,224.2 L588.5,224.2" fill="none" stroke="#505050" stroke-width="0.9" stroke-linejoin="round" />
<path d="M418.5,245.1 L419.4,245.0 L420.5,244.7 L421.9,244.4 L423.4,243.7 L425.1,243.7 L426.8,243.0 L428.6,242.6 L430.3,242.2 L431.7,241.9 L433.2,241.0 L434.7,240.6 L436.2,240.3 L437.8,239.7 L439.4,239.3 L441.0,238.6 L442.6,238.5 L444.1,237.5 L445.7,237.5 L447.2,237.0 L448.8,236.4 L450.4,236.5 L452.0,235.9 L453.5,235.7 L455.1,235.5 L456.6,235.2 L458.1,234.9 L459.6,234.5 L461.0,234.6 L462.7,233.7 L464.4,233.2 L466.1,232.5 L467.7,232.4 L469.3,231.6 L470.7,231.2 L472.1,230.7 L473.3,229.8 L474.9,228.9 L476.3,228.1 L477.4,227.2 L478.4,226.5 L479.4,225.5 L480.3,224.0 L481.0,222.7 L481.8,221.2 L482.5,219.6 L483.3,217.8 L484.0,216.0 L484.6,214.3 L485.3,212.8 L485.9,211.4 L486.5,209.5 L487.2,208.1 L487.9,206.4 L488.6,205.2 L489.7,203.4 L491.0,202.4 L492.3,201.2 L493.5,199.7 L494.8,199.2 L496.3,198.0 L497.8,197.9 L499.3,197.1 L500.9,197.3 L502.2,198.3 L503.4,199.1 L504.7,199.9 L506.0,201.3 L507.4,202.5 L508.8,203.1 L510.4,204.6 L511.9,205.4 L513.4,206.1 L514.7,205.9 L515.7,205.0 L516.6,204.0 L517.4,202.5 L518.3,200.8 L519.1,198.8 L520.0,196.8 L520.7,195.7 L521.5,194.0 L522.2,192.8 L523.0,190.7 L523.8,189.5 L524.5,187.5 L525.3,186.3 L526.0,184.9 L526.9,183.4 L527.8,182.2 L528.7,181.0 L529.5,179.4 L530.4,178.9 L531.3,177.8 L532.7,176.0 L534.0,175.1 L535.4,174.3 L536.8,173.9 L537.9,174.6 L538.9,174.8 L540.0,176.0 L541.1,177.6 L542.3,180.5 L542.7,181.2 L543.1,182.2 L543.5,183.8 L544.0,184.6 L544.4,186.0 L544.9,187.4 L545.3,188.6 L545.8,190.4 L546.2,191.9 L546.7,193.4 L547.2,195.2 L547.7,197.0 L548.2,198.3 L548.7,200.7 L549.2,202.3 L549.7,204.4 L550.0,205.5 L550.4,207.0 L550.7,208.3 L551.0,209.4 L551.4,210.8 L551.7,212.5 L552.1,214.0 L552.5,215.6 L552.8,217.4 L553.2,219.1 L553.6,220.7 L553.9,222.6 L554.3,223.9 L554.7,225.7 L555.0,227.4 L555.4,229.1 L555.8,230.8 L556.1,232.3 L556.5,233.4 L556.9,235.3 L557.2,236.6 L557.6,238.0 L557.9,239.4 L558.2,240.4 L558.6,241.9 L558.9,242.7 L559.6,245.0 L560.3,247.1 L561.0,248.5 L561.6,250.1 L562.2,251.9 L562.8,252.5 L563.4,253.7 L564.1,254.9 L564.8,255.7 L565.5,256.7 L566.3,257.8 L567.5,259.1 L568.8,260.0 L570.2,261.0 L571.6,261.7 L573.0,262.9 L574.5,263.3 L575.9,264.2 L577.3,264.7 L579.0,265.8 L580.8,266.3 L582.7,266.7 L584.5,267.5 L586.1,267.7 L587.5,268.2 L588.5,268.5" fill="none" stroke="#505050" stroke-width="0.9" stroke-linejoin="round" />
<path d="M418.5,245.0 L419.4,245.2 L420.7,244.9 L422.2,244.5 L423.9,243.9 L425.7,243.6 L427.4,242.4 L428.9,242.5 L430.3,241.8 L432.1,241.6 L433.7,240.9 L435.1,240.5 L436.5,240.0 L438.0,239.6 L439.4,239.3 L440.7,238.9 L442.1,238.0 L443.7,238.0 L445.7,237.7 L447.0,237.2 L448.4,236.9 L450.0,237.1 L451.6,237.2 L453.4,237.0 L455.1,236.6 L456.7,237.0 L458.3,236.7 L459.7,237.1 L461.0,236.5 L463.0,236.9 L464.6,236.8 L466.0,237.4 L467.3,236.9 L468.7,237.7 L470.2,237.7 L471.7,238.1 L473.1,238.4 L474.7,239.1 L476.3,239.9 L477.8,240.4 L479.3,240.8 L481.0,241.1 L482.6,241.2 L484.1,241.8 L485.6,242.1 L487.2,242.0 L488.8,242.6 L490.2,241.8 L491.7,241.7 L493.2,241.2 L494.5,240.6 L495.8,240.0 L497.1,239.4 L498.4,238.6 L499.7,237.8 L500.9,235.9 L501.5,235.0 L502.1,233.5 L502.7,232.1 L503.2,231.0 L503.8,229.7 L504.3,227.6 L504.9,226.5 L505.5,224.5 L506.1,223.3 L506.7,221.4 L507.4,219.7 L508.0,218.4 L508.7,217.6 L509.4,216.0 L510.1,214.2 L510.8,213.4 L511.6,211.5 L512.3,210.1 L513.1,208.4 L513.8,207.3 L514.6,206.1 L515.3,205.1 L515.9,203.3 L516.6,202.3 L517.5,200.3 L518.3,199.3 L519.2,197.5 L520.0,196.1 L520.8,194.7 L521.5,193.8 L522.3,192.6 L523.1,190.6 L523.9,189.5 L524.7,187.8 L525.6,186.9 L526.4,185.5 L527.3,183.4 L528.1,182.5 L529.0,180.8 L529.8,179.7 L530.6,178.7 L531.3,177.6 L532.8,176.1 L534.2,174.6 L535.5,174.0 L536.8,173.9 L537.9,174.3 L538.9,174.7 L540.0,175.9 L541.1,177.4 L542.3,180.4 L542.7,181.2 L543.1,182.3 L543.6,183.9 L544.0,184.6 L544.5,186.3 L544.9,187.8 L545.4,189.3 L545.9,191.0 L546.4,192.3 L546.8,194.4 L547.3,195.9 L547.8,197.1 L548.3,199.2 L548.8,200.8 L549.2,202.9 L549.7,204.4 L550.1,205.7 L550.4,207.1 L550.8,208.6 L551.2,209.9 L551.6,211.4 L552.0,213.0 L552.4,214.1 L552.8,216.1 L553.1,217.6 L553.5,219.2 L553.9,220.9 L554.3,222.5 L554.7,223.8 L555.0,225.5 L555.4,226.7 L555.7,228.7 L556.1,229.9 L556.4,231.2 L556.8,232.6 L557.1,233.2 L557.6,235.3 L558.1,237.3 L558.6,239.1 L559.0,240.7 L559.4,242.3 L559.9,243.9 L560.3,245.5 L560.7,246.8 L561.1,248.0 L561.6,249.7 L562.1,250.9 L562.6,252.4 L563.3,253.3 L564.1,255.4 L564.9,256.7 L565.7,258.8 L566.5,260.3 L567.3,261.5 L568.2,262.5 L569.1,264.1 L570.0,264.9 L571.2,266.3 L572.5,266.9 L573.8,267.7 L575.2,269.0 L576.5,269.6 L577.9,269.8 L579.2,270.2 L580.9,270.9 L582.6,271.9 L584.4,271.7 L586.1,272.5 L587.5,272.4 L588.5,273.1" fill="none" stroke="#e23c28" stroke-width="1.6" stroke-linejoin="round" />
<text x="421.9" y="133.8" font-size="8" text-anchor="start" fill="#222" style="color:#222" font-weight="bold">(3) Post-edge</text>
<text x="422.7" y="183.5" font-size="8" text-anchor="start" fill="#222" style="color:#222" font-weight="bold">(2) Main-edge</text>
<text x="422.7" y="227.3" font-size="8" text-anchor="start" fill="#222" style="color:#222" font-weight="bold">(1) Pre-edge</text>
</svg></body></html>
